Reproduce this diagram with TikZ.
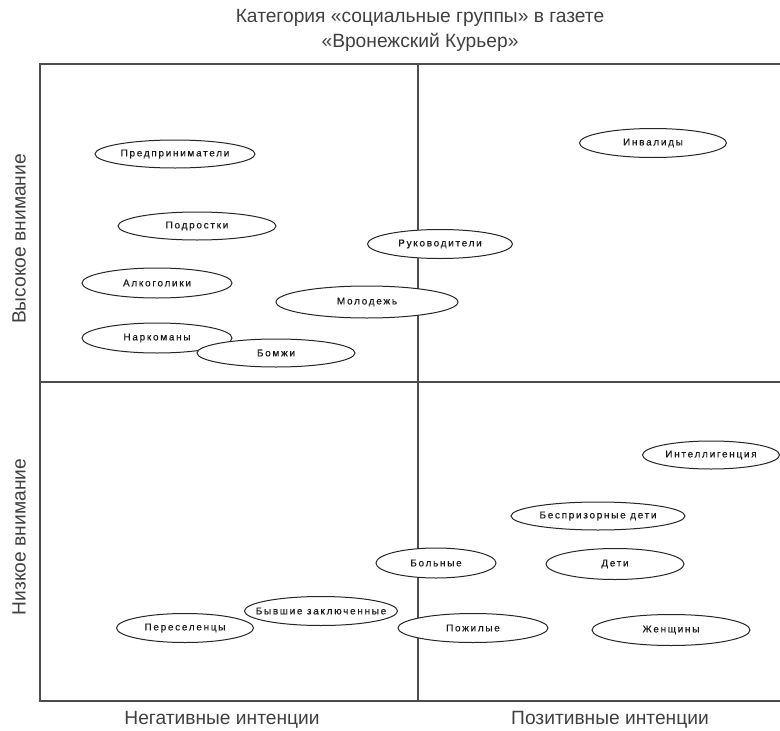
\documentclass[tikz,border=0pt]{standalone}
\usepackage{fontspec}
\setmainfont{Liberation Sans}
\newfontfamily\groupfont[LetterSpace=17,FakeBold=0.4]{Liberation Sans}
\usetikzlibrary{shapes.geometric}
\tikzset{%
	group/.style     = {draw, ellipse, fill=white, inner sep=0pt, line width=1pt, draw=black!85, text=black!90, font=\groupfont\fontsize{10}{12}\selectfont},
	axislabel/.style = {text=black!75, font=\fontsize{19.2}{25}\selectfont},
	frameline/.style = {line width=1.3pt, black!70},
}

\begin{document}
\begin{tikzpicture}[x=1pt,y=-1pt]
		\useasboundingbox (0,0) rectangle (780,731);
		% quadrants
		\draw[frameline] (780,64) -- (40,64) -- (40,701) -- (780,701);
		\draw[frameline] (418,64) -- (418,701);
		\draw[frameline] (40,382) -- (780,382);
		% titles
		\node[axislabel, align=center] (title) at (420,30) {Категория «социальные группы» в газете\\«Вронежский Курьер»};
		\node[axislabel, rotate=90] (high) at (19,239) {Высокое внимание};
		\node[axislabel, rotate=90] (low) at (19,537) {Низкое внимание};
		\node[axislabel] (neg) at (222,720) {Негативные интенции};
		\node[axislabel] (pos) at (610,720) {Позитивные интенции};
		% high attention, negative
		\node[group, minimum width=160, minimum height=28] (entrepreneurs) at (175,154) {Предприниматели};
		\node[group, minimum width=158, minimum height=28] (teens) at (197,226) {Подростки};
		\node[group, minimum width=150, minimum height=30] (alcoholics) at (157,283) {Алкоголики};
		\node[group, minimum width=182, minimum height=32] (youth) at (367,302) {Молодежь};
		\node[group, minimum width=145, minimum height=29] (managers) at (440,244) {Руководители};
		\node[group, minimum width=150, minimum height=30] (addicts) at (157,338) {Наркоманы};
		\node[group, minimum width=158, minimum height=28] (homeless) at (276,353) {Бомжи};
		% high attention, positive
		\node[group, minimum width=147, minimum height=29] (disabled) at (653,143) {Инвалиды};
		% low attention
		\node[group, minimum width=137, minimum height=28] (intelligentsia) at (711,455) {Интеллигенция};
		\node[group, minimum width=174, minimum height=28] (street) at (598,516) {Беспризорные дети};
		\node[group, minimum width=120, minimum height=30] (sick) at (436,563) {Больные};
		\node[group, minimum width=138, minimum height=31] (children) at (615,564) {Дети};
		\node[group, minimum width=153, minimum height=29] (prisoners) at (321,611) {\makebox[0pt]{Бывшие заключенные}};
		\node[group, minimum width=137, minimum height=29] (settlers) at (185,628) {Переселенцы};
		\node[group, minimum width=150, minimum height=29] (elderly) at (473,628) {Пожилые};
		\node[group, minimum width=158, minimum height=31] (women) at (671,630) {Женщины};
\end{tikzpicture}
\end{document}
